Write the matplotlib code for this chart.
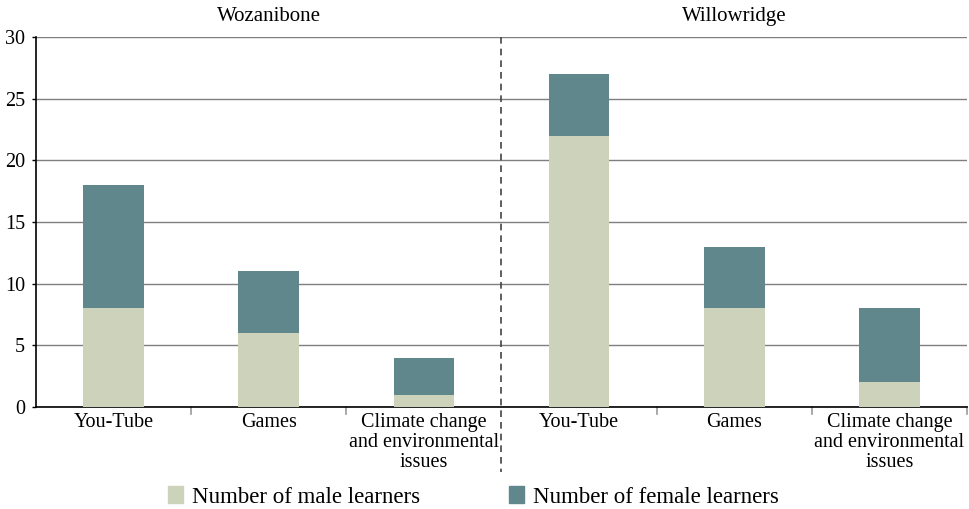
import matplotlib
matplotlib.use("Agg")
import matplotlib.pyplot as plt
from matplotlib.patches import Patch

plt.rcParams['font.family'] = ['Liberation Serif', 'DejaVu Serif']

schools = ["Wozanibone", "Willowridge"]
categories = ["You-Tube", "Games", "Climate change\nand environmental\nissues"]
male = [8, 6, 1, 22, 8, 2]
female = [10, 5, 3, 5, 5, 6]
yticks = [0, 5, 10, 15, 20, 25, 30]

male_color = "#CDD3BA"
female_color = "#5F878C"

fig = plt.figure(figsize=(9.70, 5.09), dpi=100)
ax = fig.add_axes([36/970, 1-407/509, 931/970, 370/509])

x = list(range(len(male)))
ax.bar(x, male, width=0.39, color=male_color, zorder=3)
ax.bar(x, female, width=0.39, bottom=male, color=female_color, zorder=3)

ax.set_xlim(-0.5, len(male) - 0.5)
ax.set_ylim(0, 30)
ax.set_yticks(yticks)
ax.set_yticklabels([str(v) for v in yticks], fontsize=14.5)
ax.yaxis.grid(True, color="#7f7f7f", linewidth=1.0, zorder=0)
for s in ["top", "right"]:
    ax.spines[s].set_visible(False)
ax.spines["left"].set_linewidth(1.2)
ax.spines["bottom"].set_linewidth(1.2)
ax.tick_params(axis='y', length=3, width=1, pad=5)

# category labels
ax.set_xticks(x)
ax.set_xticklabels(categories * 2, fontsize=14.5, linespacing=1.1, va='top')
ax.tick_params(axis='x', length=0, pad=4)
# separators between categories
for b in [0.5, 1.5, 3.5, 4.5, 5.5]:
    ax.plot([b, b], [0, -0.55], color="#999999", lw=1.2, clip_on=False, transform=ax.transData)
# dashed group divider
ax.plot([2.5, 2.5], [30, -5.3], color="#444444", lw=1.2, ls=(0, (4, 3)), clip_on=False, zorder=4)

# group titles
for i, s in enumerate(schools):
    ax.text(1 + 3 * i, 30.9, s, ha='center', va='bottom', fontsize=15)

handles = [Patch(color=male_color, label="Number of male learners"),
           Patch(color=female_color, label="Number of female learners")]
fig.legend(handles=handles, loc='center', bbox_to_anchor=(0.488, 1 - 497/509), ncol=2,
           frameon=False, fontsize=16.5, handlelength=0.65, handleheight=0.75,
           columnspacing=3.9, handletextpad=0.4)

fig.savefig("out.png", dpi=100)
